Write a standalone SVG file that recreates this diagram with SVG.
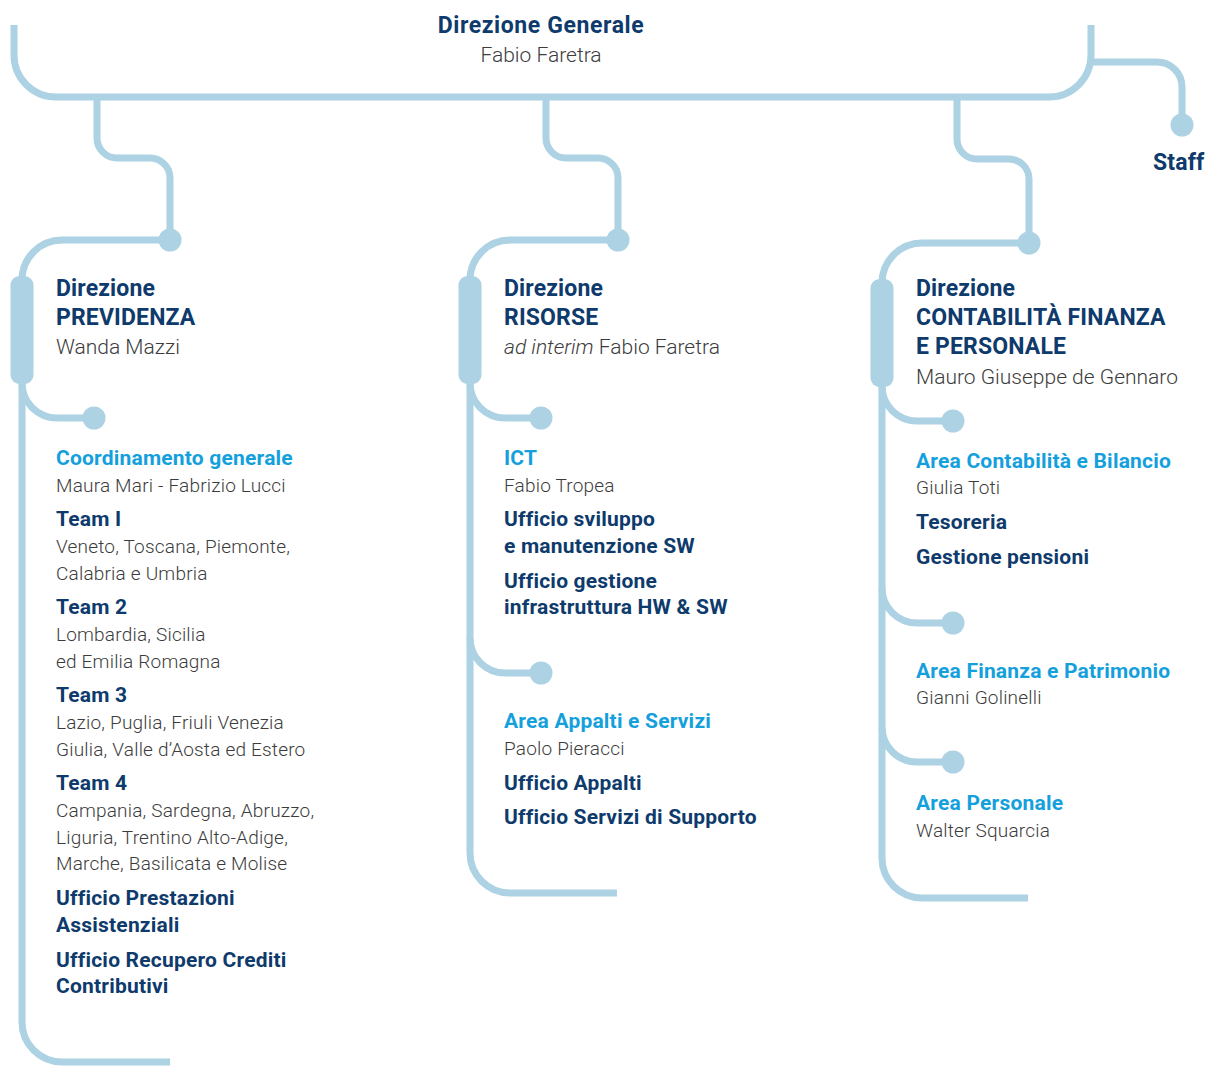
<svg xmlns="http://www.w3.org/2000/svg" width="1209" height="1066" viewBox="0 0 1209 1066">
  <style>
    .ln { fill: none; stroke: #acd2e4; stroke-width: 7; }
    .dot { fill: #acd2e4; }
    .pill { fill: #acd2e4; }
    text { font-family: Roboto, "Liberation Sans", sans-serif; }
    .hd { font-size: 23px; font-weight: 700; fill: #0e3a6c; letter-spacing: 0.15px; }
    .top { letter-spacing: 0.6px; }
    .nm { font-size: 21px; font-weight: 300; fill: #3c3c3c; }
    .ar { font-size: 21px; font-weight: 700; fill: #14a0dc; letter-spacing: 0.2px; }
    .of { font-size: 21px; font-weight: 700; fill: #0e3a6c; letter-spacing: 0.2px; }
    .tx { font-size: 19px; font-weight: 300; fill: #3c3c3c; letter-spacing: 0.2px; }
  </style>

  <g id="connectors">
    <!-- main bus -->
    <path class="ln" d="M14,25 V55 A42,42 0 0 0 56,97 H1049 A42,42 0 0 0 1091,55 V25"/>
    <!-- staff -->
    <path class="ln" d="M1091,62 H1157 A25,25 0 0 1 1182,87 V125"/>
    <!-- drops to the three directorates -->
    <path class="ln" d="M97,97 V138 A20,20 0 0 0 117,158 H150 A20,20 0 0 1 170,178 V240"/>
    <path class="ln" d="M546,97 V138 A20,20 0 0 0 566,158 H598 A20,20 0 0 1 618,178 V240"/>
    <path class="ln" d="M957,97 V139 A20,20 0 0 0 977,159 H1009 A20,20 0 0 1 1029,179 V243"/>
    <!-- column spines -->
    <path class="ln" d="M170,240 H62 A40,40 0 0 0 22,280 V1022 A40,40 0 0 0 62,1062 H170"/>
    <path class="ln" d="M618,240 H510 A40,40 0 0 0 470,280 V853 A40,40 0 0 0 510,893 H617"/>
    <path class="ln" d="M1029,243 H922 A40,40 0 0 0 882,283 V858 A40,40 0 0 0 922,898 H1028"/>
    <!-- side branches -->
    <path class="ln" d="M22,383 A35,35 0 0 0 57,418 H94"/>
    <path class="ln" d="M470,383 A35,35 0 0 0 505,418 H541"/>
    <path class="ln" d="M470,638 A35,35 0 0 0 505,673 H541"/>
    <path class="ln" d="M882,386 A35,35 0 0 0 917,421 H953"/>
    <path class="ln" d="M882,588 A35,35 0 0 0 917,623 H953"/>
    <path class="ln" d="M882,727 A35,35 0 0 0 917,762 H953"/>
    <!-- stops -->
    <circle class="dot" cx="1182" cy="125" r="11.5"/>
    <circle class="dot" cx="170" cy="240" r="11.5"/>
    <circle class="dot" cx="618" cy="240" r="11.5"/>
    <circle class="dot" cx="1029" cy="243" r="11.5"/>
    <circle class="dot" cx="94" cy="418" r="11.5"/>
    <circle class="dot" cx="541" cy="418" r="11.5"/>
    <circle class="dot" cx="541" cy="673" r="11.5"/>
    <circle class="dot" cx="953" cy="421" r="11.5"/>
    <circle class="dot" cx="953" cy="623" r="11.5"/>
    <circle class="dot" cx="953" cy="762" r="11.5"/>
    <!-- directorate markers -->
    <rect class="pill" x="10.5" y="276" width="23" height="108" rx="9"/>
    <rect class="pill" x="458.5" y="276" width="23" height="108" rx="9"/>
    <rect class="pill" x="870.5" y="279" width="23" height="108" rx="9"/>
  </g>

  <g id="direzione-generale">
    <text class="hd top" x="541" y="33" text-anchor="middle">Direzione Generale</text>
    <text class="nm" x="541" y="62" text-anchor="middle">Fabio Faretra</text>
  </g>

  <g id="staff">
    <text class="hd" x="1153" y="170">Staff</text>
  </g>

  <g id="direzione-previdenza">
    <text class="hd" x="56" y="296">Direzione</text>
    <text class="hd" x="56" y="325">PREVIDENZA</text>
    <text class="nm" x="56" y="354">Wanda Mazzi</text>
  </g>

  <g id="previdenza-uffici">
    <text class="ar" x="56" y="465">Coordinamento generale</text>
    <text class="tx" x="56" y="492">Maura Mari - Fabrizio Lucci</text>
    <text class="of" x="56" y="526">Team I</text>
    <text class="tx" x="56" y="553">Veneto, Toscana, Piemonte,</text>
    <text class="tx" x="56" y="580">Calabria e Umbria</text>
    <text class="of" x="56" y="614">Team 2</text>
    <text class="tx" x="56" y="641">Lombardia, Sicilia</text>
    <text class="tx" x="56" y="668">ed Emilia Romagna</text>
    <text class="of" x="56" y="702">Team 3</text>
    <text class="tx" x="56" y="729">Lazio, Puglia, Friuli Venezia</text>
    <text class="tx" x="56" y="756">Giulia, Valle d’Aosta ed Estero</text>
    <text class="of" x="56" y="790">Team 4</text>
    <text class="tx" x="56" y="817">Campania, Sardegna, Abruzzo,</text>
    <text class="tx" x="56" y="844">Liguria, Trentino Alto-Adige,</text>
    <text class="tx" x="56" y="870">Marche, Basilicata e Molise</text>
    <text class="of" x="56" y="905">Ufficio Prestazioni</text>
    <text class="of" x="56" y="932">Assistenziali</text>
    <text class="of" x="56" y="967">Ufficio Recupero Crediti</text>
    <text class="of" x="56" y="993">Contributivi</text>
  </g>

  <g id="direzione-risorse">
    <text class="hd" x="504" y="296">Direzione</text>
    <text class="hd" x="504" y="325">RISORSE</text>
    <text class="nm" x="504" y="354"><tspan font-style="italic">ad interim</tspan> Fabio Faretra</text>
  </g>

  <g id="risorse-ict">
    <text class="ar" x="504" y="465">ICT</text>
    <text class="tx" x="504" y="492">Fabio Tropea</text>
    <text class="of" x="504" y="526">Ufficio sviluppo</text>
    <text class="of" x="504" y="553">e manutenzione SW</text>
    <text class="of" x="504" y="588">Ufficio gestione</text>
    <text class="of" x="504" y="614">infrastruttura HW &amp; SW</text>
  </g>

  <g id="risorse-appalti">
    <text class="ar" x="504" y="728">Area Appalti e Servizi</text>
    <text class="tx" x="504" y="755">Paolo Pieracci</text>
    <text class="of" x="504" y="790">Ufficio Appalti</text>
    <text class="of" x="504" y="824">Ufficio Servizi di Supporto</text>
  </g>

  <g id="direzione-contabilita">
    <text class="hd" x="916" y="296">Direzione</text>
    <text class="hd" x="916" y="325">CONTABILITÀ FINANZA</text>
    <text class="hd" x="916" y="354">E PERSONALE</text>
    <text class="nm" x="916" y="384">Mauro Giuseppe de Gennaro</text>
  </g>

  <g id="area-contabilita">
    <text class="ar" x="916" y="468">Area Contabilità e Bilancio</text>
    <text class="tx" x="916" y="494">Giulia Toti</text>
    <text class="of" x="916" y="529">Tesoreria</text>
    <text class="of" x="916" y="564">Gestione pensioni</text>
  </g>

  <g id="area-finanza">
    <text class="ar" x="916" y="678">Area Finanza e Patrimonio</text>
    <text class="tx" x="916" y="704">Gianni Golinelli</text>
  </g>

  <g id="area-personale">
    <text class="ar" x="916" y="810">Area Personale</text>
    <text class="tx" x="916" y="837">Walter Squarcia</text>
  </g>
</svg>
